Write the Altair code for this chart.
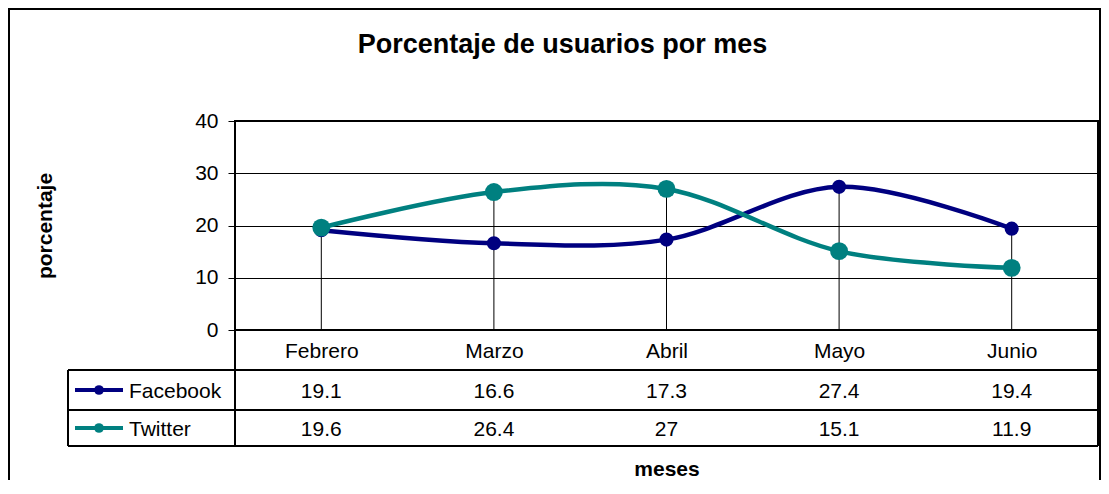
import altair as alt
import pandas as pd

# ---- data ----
meses = ["Febrero", "Marzo", "Abril", "Mayo", "Junio"]
series = ["Facebook", "Twitter"]
facebook = [19.1, 16.6, 17.3, 27.4, 19.4]
twitter = [19.6, 26.4, 27, 15.1, 11.9]
colores = ["#000080", "#008080"]
y_ticks = [0, 10, 20, 30, 40]

rows = []
for s, vals in zip(series, [facebook, twitter]):
    for m, v in zip(meses, vals):
        rows.append({"mes": m, "serie": s, "valor": v})
df = pd.DataFrame(rows)
one = pd.DataFrame({"k": [0]})

FONT = "Liberation Sans"
W, H = 863, 209

x_enc = alt.X(
    "mes:N", sort=meses,
    scale=alt.Scale(type="point", domain=meses, padding=0.5),
    axis=alt.Axis(title="meses", labelAngle=0, ticks=False, tickSize=0, domain=False,
                  grid=False, labelPadding=10, labelFontSize=21, labelColor="black",
                  labelFont=FONT, titleFont=FONT, titleFontSize=21, titleFontWeight="bold",
                  titleColor="black", titleY=145, titleBaseline="alphabetic"),
)
y_enc = alt.Y(
    "valor:Q",
    scale=alt.Scale(domain=[0, 40], nice=False, zero=True),
    axis=alt.Axis(values=y_ticks, title="porcentaje", grid=True, gridColor="black",
                  gridWidth=1, gridOpacity=1, tickColor="black", tickSize=7, tickWidth=1,
                  labelPadding=10, domain=False, labelFontSize=21, labelColor="black",
                  labelFont=FONT, titleFont=FONT, titleFontSize=21, titleFontWeight="bold",
                  titleColor="black", titleX=-190, titleY=104.5, titleAngle=270,
                  titleBaseline="middle", titleAlign="center"),
)
color_enc = alt.Color("serie:N", scale=alt.Scale(domain=series, range=colores), legend=None)

base = alt.Chart(df)

drop = base.transform_aggregate(
    maxv="max(valor)", groupby=["mes"]
).mark_rule(color="black", strokeWidth=1).encode(
    x=x_enc, y=alt.Y("maxv:Q", scale=alt.Scale(domain=[0, 40], nice=False)), y2=alt.datum(0)
)
lines = base.mark_line(interpolate="cardinal", strokeWidth=4.5).encode(
    x=x_enc, y=y_enc, color=color_enc, detail="serie:N"
)
pts_fb = base.transform_filter(alt.datum.serie == "Facebook").mark_circle(size=200, opacity=1).encode(
    x=x_enc, y=y_enc, color=color_enc
)
pts_tw = base.transform_filter(alt.datum.serie == "Twitter").mark_circle(size=320, opacity=1).encode(
    x=x_enc, y=y_enc, color=color_enc
)
plot_layer = alt.layer(drop, lines, pts_fb, pts_tw)

# ---- data table under the plot ----
row_y = alt.Y("serie:N", scale=alt.Scale(type="point", domain=series, range=[269, 307], padding=0), axis=None)
tbl_vals = base.mark_text(font=FONT, fontSize=21, color="black", baseline="middle", dy=2).encode(
    x=x_enc, y=row_y, text=alt.Text("valor:Q")
)
leg_df = pd.DataFrame({"serie": series})
leg_line = alt.Chart(leg_df).mark_rule(strokeWidth=4).encode(
    x=alt.value(-160), x2=alt.value(-112), y=row_y, color=color_enc
)
leg_pt = alt.Chart(leg_df).mark_circle(size=95, opacity=1).encode(
    x=alt.value(-136), y=row_y, color=color_enc
)
leg_txt = alt.Chart(leg_df).mark_text(font=FONT, fontSize=21, color="black", align="left",
                                      baseline="middle", dy=2).encode(
    x=alt.value(-106), y=row_y, text="serie:N"
)
table_layer = alt.layer(tbl_vals, leg_line, leg_pt, leg_txt)


def hline(x1, x2, y, w=2):
    return alt.Chart(one).mark_rule(color="black", strokeWidth=w).encode(
        x=alt.value(x1), x2=alt.value(x2), y=alt.value(y))


def vline(x, y1, y2, w=2):
    return alt.Chart(one).mark_rule(color="black", strokeWidth=w).encode(
        x=alt.value(x), y=alt.value(y1), y2=alt.value(y2))


decor = [
    hline(-167, W, 249), hline(-167, W, 289), hline(-167, W, 325),
    vline(-167, 249, 325), vline(0, 209, 325), vline(W, 209, 325),
    alt.Chart(one).mark_rect(fillOpacity=0, stroke="black", strokeWidth=2).encode(
        x=alt.value(-226), x2=alt.value(W + 2), y=alt.value(-112), y2=alt.value(400)),
]

chart = alt.layer(plot_layer, table_layer, *decor).resolve_scale(y="independent").properties(
    width=W, height=H,
    title=alt.Title("Porcentaje de usuarios por mes", fontSize=27, font=FONT, fontWeight="bold",
                    color="black", anchor="middle", frame="group", dx=-104, offset=0,
                    baseline="alphabetic", dy=72),
    autosize=alt.AutoSizeParams(type="none"),
    padding={"left": 227, "top": 113, "right": 3, "bottom": 150},
).configure(background="white").configure_view(stroke="black", strokeWidth=2)

chart.save("out.html", embed_options={"renderer": "svg", "actions": False})
